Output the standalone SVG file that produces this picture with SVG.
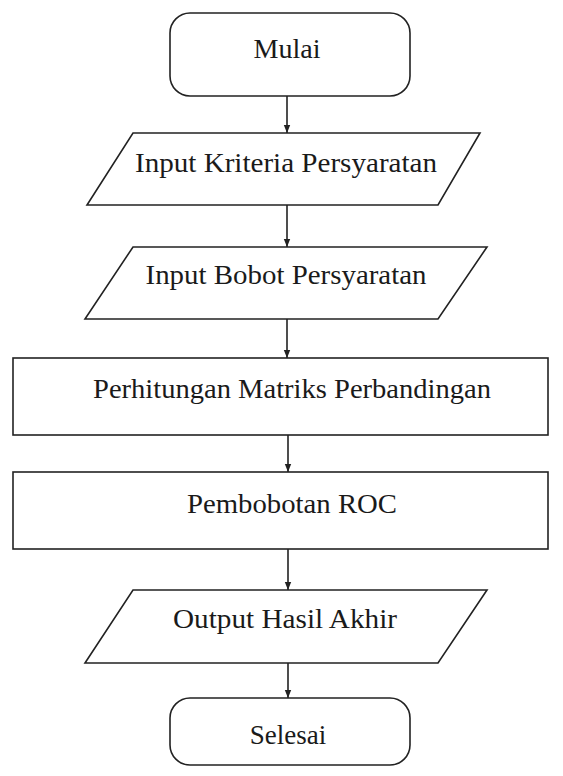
<svg xmlns="http://www.w3.org/2000/svg" width="563" height="776" viewBox="0 0 563 776">
<style>
.s{fill:#fff;stroke:#222;stroke-width:1.6}
.t{font-family:'Liberation Serif','Times New Roman',serif;font-size:27px;fill:#1a1a1a;text-anchor:middle}
.c{stroke:#222;stroke-width:1.6;fill:none}
</style>
<defs>
<marker id="ah" viewBox="0 0 10 10" refX="10" refY="5" markerWidth="5" markerHeight="5" markerUnits="strokeWidth" orient="auto">
<path d="M0,1 L10,5 L0,9 Z" fill="#222"/>
</marker>
</defs>
<rect width="563" height="776" fill="#fff"/>
<g id="connectors">
<line class="c" x1="287" y1="96" x2="287" y2="133" marker-end="url(#ah)"/>
<line class="c" x1="287" y1="205" x2="287" y2="247" marker-end="url(#ah)"/>
<line class="c" x1="287" y1="319" x2="287" y2="358" marker-end="url(#ah)"/>
<line class="c" x1="288" y1="435" x2="288" y2="472" marker-end="url(#ah)"/>
<line class="c" x1="288" y1="549" x2="288" y2="590" marker-end="url(#ah)"/>
<line class="c" x1="288" y1="663" x2="288" y2="698" marker-end="url(#ah)"/>
</g>
<g id="mulai">
<rect class="s" x="170" y="13" width="240" height="83" rx="20"/>
<text class="t" x="287" y="58" textLength="67" lengthAdjust="spacingAndGlyphs">Mulai</text>
</g>
<g id="input-kriteria">
<polygon class="s" points="133,133 480,133 438,205 87,205"/>
<text class="t" x="286" y="172" textLength="302" lengthAdjust="spacingAndGlyphs">Input Kriteria Persyaratan</text>
</g>
<g id="input-bobot">
<polygon class="s" points="133,247 487,247 438,319 85,319"/>
<text class="t" x="286" y="284" textLength="281" lengthAdjust="spacingAndGlyphs">Input Bobot Persyaratan</text>
</g>
<g id="perhitungan">
<rect class="s" x="13" y="358" width="535" height="77"/>
<text class="t" x="292" y="398" textLength="398" lengthAdjust="spacingAndGlyphs">Perhitungan Matriks Perbandingan</text>
</g>
<g id="pembobotan">
<rect class="s" x="13" y="472" width="535" height="77"/>
<text class="t" x="292" y="513" textLength="210" lengthAdjust="spacingAndGlyphs">Pembobotan ROC</text>
</g>
<g id="output">
<polygon class="s" points="133,590 487,590 438,663 85,663"/>
<text class="t" x="285" y="628" textLength="224" lengthAdjust="spacingAndGlyphs">Output Hasil Akhir</text>
</g>
<g id="selesai">
<rect class="s" x="170" y="698" width="240" height="67" rx="20"/>
<text class="t" x="288" y="744">Selesai</text>
</g>
</svg>
